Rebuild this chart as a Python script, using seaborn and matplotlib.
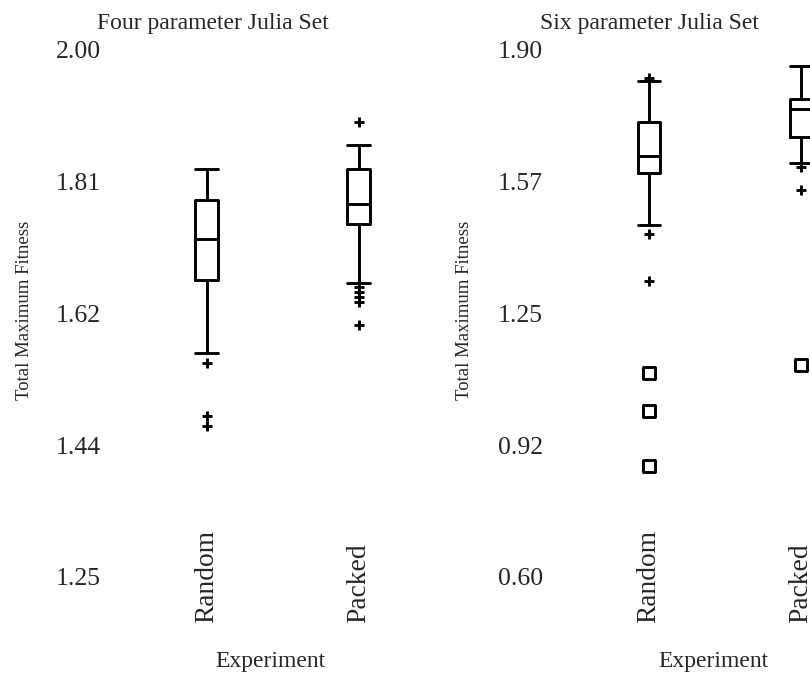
import numpy as np
import pandas as pd
import matplotlib
matplotlib.use("Agg")
import matplotlib.pyplot as plt
import seaborn as sns

# ---- data -------------------------------------------------------------
EXPERIMENTS = ["Random", "Packed"]

# five-number summaries per experiment: lower whisker, Q1, median, Q3, upper whisker
FOUR_RANDOM = [1.568, 1.673, 1.730, 1.786, 1.831]
FOUR_PACKED = [1.668, 1.752, 1.781, 1.830, 1.865]
SIX_RANDOM = [1.467, 1.596, 1.637, 1.721, 1.824]
SIX_PACKED = [1.621, 1.685, 1.754, 1.778, 1.861]

# outliers ('+') and extreme outliers (open squares)
FOUR_RANDOM_OUT = [1.554, 1.479, 1.464]
FOUR_PACKED_OUT = [1.897, 1.662, 1.655, 1.648, 1.641, 1.608]
SIX_RANDOM_OUT = [1.831, 1.446, 1.330]
SIX_PACKED_OUT = [1.611, 1.555]
SIX_RANDOM_EXT = [1.103, 1.010, 0.874]
SIX_PACKED_EXT = [1.123]

FOUR_YLIM = (1.25, 2.00)
SIX_YLIM = (0.60, 1.90)
FOUR_TICKLABELS = ["1.25", "1.44", "1.62", "1.81", "2.00"]
SIX_TICKLABELS = ["0.60", "0.92", "1.25", "1.57", "1.90"]

TITLES = ["Four parameter Julia Set", "Six parameter Julia Set"]
XLABEL = "Experiment"
YLABEL = "Total Maximum Fitness"


def long_frame(per_group):
    rows = []
    for name, vals in zip(EXPERIMENTS, per_group):
        rows += [(name, v) for v in vals]
    return pd.DataFrame(rows, columns=["experiment", "fitness"])


# ---- style ------------------------------------------------------------
sns.set_theme(style="white")
plt.rcParams["font.family"] = ["Liberation Serif", "DejaVu Serif"]

W, H = 810, 673
fig = plt.figure(figsize=(W / 100, H / 100), dpi=100)

AX_W = 304
TOP_PX, BOT_PX = 49.75, 576.75
AX_H = BOT_PX - TOP_PX
panels = [
    dict(left=130.5, summ=[FOUR_RANDOM, FOUR_PACKED], out=[FOUR_RANDOM_OUT, FOUR_PACKED_OUT],
         ext=[[], []], ylim=FOUR_YLIM, ticklabels=FOUR_TICKLABELS, title=TITLES[0],
         title_x=212.5, xlab_x=270, ylab_x=25),
    dict(left=573.0, summ=[SIX_RANDOM, SIX_PACKED], out=[SIX_RANDOM_OUT, SIX_PACKED_OUT],
         ext=[SIX_RANDOM_EXT, SIX_PACKED_EXT], ylim=SIX_YLIM, ticklabels=SIX_TICKLABELS,
         title=TITLES[1], title_x=649.5, xlab_x=713, ylab_x=465),
]

for p in panels:
    ax = fig.add_axes([p["left"] / W, (H - BOT_PX) / H, AX_W / W, AX_H / H])

    sns.boxplot(data=long_frame(p["summ"]), x="experiment", y="fitness", order=EXPERIMENTS,
                whis=(0, 100), width=0.145, fill=False, color="black", linecolor="black",
                linewidth=2.1, showfliers=False, capwidths=0.145, ax=ax)

    sns.stripplot(data=long_frame(p["out"]), x="experiment", y="fitness", order=EXPERIMENTS,
                  jitter=False, marker="+", color="black", size=7, linewidth=2.1, ax=ax)

    ext = long_frame(p["ext"])
    if len(ext):
        sns.stripplot(data=ext, x="experiment", y="fitness", order=EXPERIMENTS,
                      jitter=False, marker="s", color="white", edgecolor="black",
                      size=8, linewidth=2.1, ax=ax)

    ax.set_xlim(-0.5, 1.5)
    ax.set_ylim(*p["ylim"])
    ax.set_yticks(np.linspace(p["ylim"][0], p["ylim"][1], len(p["ticklabels"])))
    ax.set_yticklabels(p["ticklabels"], fontsize=18.5)
    ax.set_xticks([0, 1])
    ax.set_xticklabels(EXPERIMENTS, rotation=90, fontsize=19.8)
    ax.tick_params(axis="y", length=0, pad=21.5)
    ax.tick_params(axis="x", length=0, pad=33.0)
    for lab in ax.get_xticklabels():
        lab.set_va("bottom")
    for s in ax.spines.values():
        s.set_visible(False)
    ax.patch.set_visible(False)

    ax.set_xlabel(XLABEL, fontsize=17, va="baseline")
    ax.xaxis.set_label_coords((p["xlab_x"] - p["left"]) / AX_W, (BOT_PX - 666.5) / AX_H)
    ax.set_ylabel(YLABEL, fontsize=13.5, va="center")
    ax.yaxis.set_label_coords((p["ylab_x"] - p["left"]) / AX_W, (BOT_PX - 310) / AX_H)

    fig.text(p["title_x"] / W, 1 - 28.5 / H, p["title"], ha="center", va="baseline", fontsize=17)

fig.savefig("out.png", dpi=100)
